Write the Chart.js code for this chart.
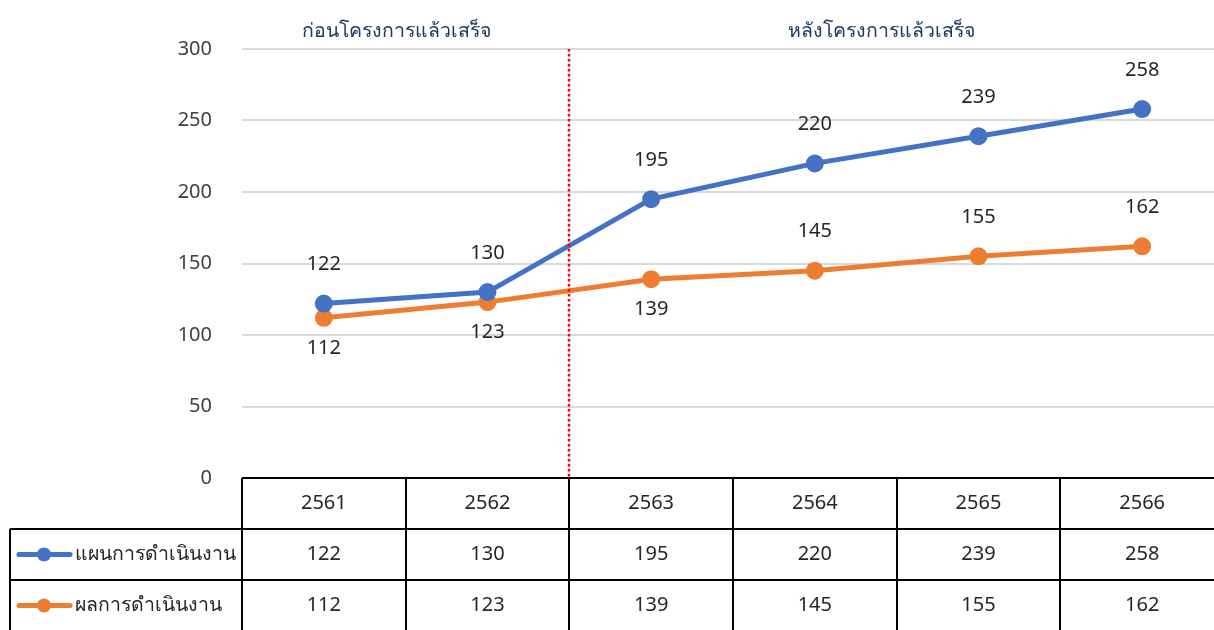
<!DOCTYPE html>
<html>
<head>
<meta charset="utf-8">
<script src="https://cdn.jsdelivr.net/npm/chart.js@4.4.0/dist/chart.umd.min.js"></script>
<style>
html,body{margin:0;padding:0;background:#fff;overflow:hidden;}
#wrap{position:relative;width:1230px;height:630px;}
</style>
</head>
<body>
<div id="wrap"><canvas id="c"></canvas></div>
<script>
// ข้อมูล
const years=['2561','2562','2563','2564','2565','2566'];
const planVals=[122,130,195,220,239,258];
const actualVals=[112,123,139,145,155,162];
const planLabel='แผนการดำเนินงาน';
const actualLabel='ผลการดำเนินงาน';
const beforeText='ก่อนโครงการแล้วเสร็จ';
const afterText='หลังโครงการแล้วเสร็จ';
const yMin=0,yMax=300,yStep=50;

const BLUE='#4472C4',ORANGE='#ED7D31';
const FONT='"Noto Sans","DejaVu Sans",sans-serif';
const TXT='#262626';

const overlay={
  id:'overlay',
  afterDatasetsDraw(chart){
    const ctx=chart.ctx,xs=chart.scales.x,a=chart.chartArea;
    const w=xs.getPixelForValue(1)-xs.getPixelForValue(0);
    // เส้นแบ่งก่อน/หลัง
    const divX=Math.round((xs.getPixelForValue(1)+xs.getPixelForValue(2))/2);
    ctx.save();
    ctx.strokeStyle='#FF0000';ctx.lineWidth=2.5;ctx.setLineDash([2.5,2.5]);
    ctx.beginPath();ctx.moveTo(divX,a.top);ctx.lineTo(divX,a.bottom);ctx.stroke();
    ctx.setLineDash([]);
    // หัวข้อช่วง
    ctx.fillStyle='#1F3864';ctx.font='19.5px '+FONT;ctx.textAlign='center';ctx.textBaseline='middle';
    ctx.fillText(beforeText,(a.left+divX)/2-9,a.top-18);
    ctx.fillText(afterText,(divX+xs.getPixelForValue(5)+w/2)/2-15,a.top-18);
    // ป้ายค่า
    ctx.fillStyle=TXT;ctx.font='20px '+FONT;
    const pm=chart.getDatasetMeta(0).data,am=chart.getDatasetMeta(1).data;
    pm.forEach(function(p,i){ctx.fillText(String(planVals[i]),p.x,p.y-39);});
    am.forEach(function(p,i){
      const dy=i<3?30:-39;
      ctx.fillText(String(actualVals[i]),p.x,p.y+dy);
    });
    // ตารางข้อมูล
    const top=a.bottom,rh=51,left=10;
    const colL=function(i){return Math.round(xs.getPixelForValue(i)-w/2);};
    const right=colL(years.length);
    ctx.strokeStyle='#000';ctx.lineWidth=2;
    ctx.beginPath();
    ctx.moveTo(colL(0),top);ctx.lineTo(right,top);
    ctx.moveTo(left,top+rh);ctx.lineTo(right,top+rh);
    ctx.moveTo(left,top+rh*2);ctx.lineTo(right,top+rh*2);
    ctx.moveTo(left,top+rh*3);ctx.lineTo(right,top+rh*3);
    ctx.moveTo(left,top+rh);ctx.lineTo(left,top+rh*3+5);
    for(let i=0;i<=years.length;i++){ctx.moveTo(colL(i),top);ctx.lineTo(colL(i),top+rh*3+5);}
    ctx.stroke();
    ctx.fillStyle=TXT;ctx.font='20px '+FONT;ctx.textAlign='center';
    years.forEach(function(y,i){
      const cx=xs.getPixelForValue(i);
      ctx.fillText(y,cx,top+rh*0.5);
      ctx.fillText(String(planVals[i]),cx,top+rh*1.5);
      ctx.fillText(String(actualVals[i]),cx,top+rh*2.5);
    });
    // สัญลักษณ์ในตาราง
    [[BLUE,planLabel],[ORANGE,actualLabel]].forEach(function(s,k){
      const cy=top+rh*(1.5+k);
      ctx.strokeStyle=s[0];ctx.lineWidth=5;ctx.lineCap='round';
      ctx.beginPath();ctx.moveTo(19,cy);ctx.lineTo(70,cy);ctx.stroke();
      ctx.fillStyle=s[0];ctx.beginPath();ctx.arc(44,cy,7,0,Math.PI*2);ctx.fill();
      ctx.fillStyle=TXT;ctx.textAlign='left';ctx.font='19.5px '+FONT;
      ctx.fillText(s[1],75,cy);
    });
    ctx.restore();
  }
};

new Chart(document.getElementById('c'),{
  type:'line',
  data:{
    labels:years,
    datasets:[
      {label:planLabel,data:planVals,borderColor:BLUE,backgroundColor:BLUE,pointBackgroundColor:BLUE,pointBorderColor:BLUE,borderWidth:5,pointRadius:6.5,tension:0},
      {label:actualLabel,data:actualVals,borderColor:ORANGE,backgroundColor:ORANGE,pointBackgroundColor:ORANGE,pointBorderColor:ORANGE,borderWidth:5,pointRadius:6.5,tension:0}
    ]
  },
  options:{
    responsive:true,maintainAspectRatio:false,animation:false,
    layout:{autoPadding:false,padding:{top:49,bottom:152,left:0,right:6}},
    plugins:{legend:{display:false},tooltip:{enabled:false}},
    scales:{
      x:{display:false,offset:true},
      y:{min:yMin,max:yMax,
        afterFit:function(s){s.width=242;},
        ticks:{stepSize:yStep,color:'#404040',font:{size:20,family:FONT},padding:30},
        grid:{color:'#D9D9D9',lineWidth:2,drawTicks:false},
        border:{display:false}
      }
    }
  },
  plugins:[overlay]
});
</script>
</body>
</html>
